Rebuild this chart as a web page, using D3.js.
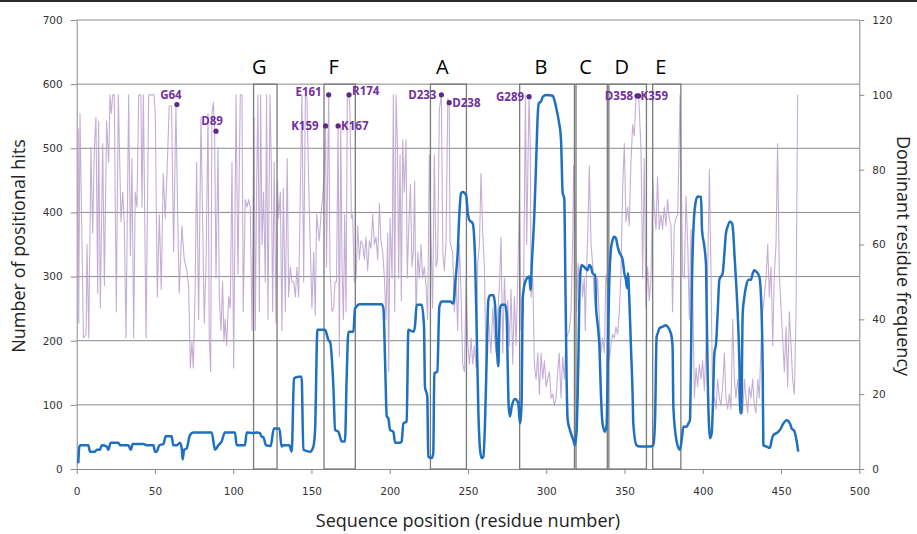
<!DOCTYPE html>
<html>
<head>
<meta charset="utf-8">
<script src="https://cdn.jsdelivr.net/npm/d3@7"></script>
<style>
  body { margin: 0; background: #fff; }
  svg { display: block; font-family: 'Open Sans', sans-serif; }
</style>
</head>
<body>
<div id="chart"></div>
<script>
// axis ticks
const xTicks = [0, 50, 100, 150, 200, 250, 300, 350, 400, 450, 500];
const hitsTicks = [0, 100, 200, 300, 400, 500, 600, 700];
const freqTicks = [0, 20, 40, 60, 80, 100, 120];

// motif boxes (residue ranges), top of box on the hits axis
const motifNames = ['G', 'F', 'A', 'B', 'C', 'D', 'E'];
const motifStart = [113, 158, 226, 283, 319, 340, 368];
const motifEnd = [128, 178, 249, 318, 339, 364, 386];
const motifTop = 600;

// labelled residues and their dominant residue frequency
const siteNames = ['G64', 'D89', 'E161', 'K159', 'K167', 'R174', 'D233', 'D238', 'G289', 'D358', 'K359'];
const siteFreq = [97.4, 90.3, 100, 91.7, 91.7, 100, 100, 97.9, 99.5, 99.7, 99.7];

// number of positional hits [residue, hits]
const hitsSeries = [
  [1, 9], [1.7, 35], [2.5, 37], [7.4, 37], [8.5, 27], [11.7, 27], [12.8, 30], [14.9, 30], [16, 37], [19.2, 35],
  [20.2, 30], [21.7, 41], [26.6, 41], [27.7, 37], [33, 37], [34.5, 30], [35.8, 39], [42.6, 39], [44.7, 37], [49, 37],
  [50, 27], [51.1, 27], [52.8, 37], [55.4, 39], [56.9, 51], [60.7, 51], [61.7, 37], [63.9, 37], [66, 41], [67.1, 32],
  [67.7, 15], [68.6, 30], [70.2, 32], [72.4, 53], [74.5, 57], [86.2, 57], [88.4, 30], [90.5, 37], [92.6, 43], [94.7, 57],
  [101.1, 57], [102.2, 37], [107.5, 37], [108.6, 57], [112.9, 56], [115, 57], [117.1, 56], [118.2, 50], [119.2, 50], [120.9, 37],
  [123.9, 36], [126, 63], [129.5, 63], [130.9, 35], [132, 37], [135.8, 37], [137.4, 27], [138.8, 141], [141.6, 144], [143.7, 144],
  [144.8, 30], [149.1, 27], [151.2, 35], [152.3, 61], [153.8, 217], [158.7, 217], [160.8, 201], [161.9, 198], [164, 128], [165.1, 61],
  [167.2, 58], [169.3, 43], [171.4, 43], [172.5, 144], [173.6, 214], [176.8, 214], [177.8, 250], [181, 257], [194.9, 257], [196, 250],
  [197, 170], [198.1, 82], [199.1, 79], [200.2, 61], [202.3, 58], [203.4, 41], [206.6, 41], [207.6, 43], [208.7, 71], [210.8, 74],
  [211.9, 217], [215.1, 214], [216.1, 222], [217.2, 256], [220.4, 256], [221.9, 222], [222.5, 128], [224, 113], [224.6, 19], [226.8, 17],
  [227.8, 24], [228.5, 149], [230.4, 152], [231.7, 253], [233.2, 261], [238.5, 261], [240.6, 258], [242, 295], [243.4, 336], [244.5, 399],
  [245.6, 430], [246.6, 432], [248.8, 427], [249.8, 401], [250.9, 388], [253, 383], [254.5, 330], [255.5, 222], [256.6, 92], [257.7, 30],
  [258.7, 17], [259.8, 19], [260.8, 66], [261.9, 170], [263, 263], [264, 271], [266.2, 271], [267.2, 258], [268.3, 196], [269.4, 160],
  [270, 222], [270.4, 250], [271.5, 256], [273.6, 256], [274.7, 243], [275.3, 170], [276, 97], [276.8, 82], [277.9, 97], [280, 109],
  [282.1, 103], [283.2, 71], [284.3, 108], [284.9, 263], [285.8, 284], [287.1, 295], [289.2, 300], [289.9, 279], [290.9, 326], [292.4, 398],
  [293.5, 476], [294.6, 554], [295.2, 570], [296.7, 573], [297.7, 580], [299.9, 583], [304.1, 582], [305.2, 575], [306.2, 565], [307.9, 544],
  [309.4, 515], [310.5, 430], [311.5, 422], [312.2, 295], [313, 139], [313.7, 76], [315.1, 61], [317.3, 45], [318.3, 37], [319.4, 61],
  [320.5, 170], [321.5, 300], [322.6, 318], [324.3, 315], [326.4, 310], [327.5, 318], [328.6, 315], [329.6, 305], [331.3, 302], [331.8, 253],
  [333, 222], [334, 190], [334.9, 118], [336, 70], [337.5, 58], [338.6, 70], [339.6, 222], [340.3, 295], [341.3, 342], [342.4, 357],
  [343.5, 362], [344.5, 360], [345.6, 347], [346.7, 338], [348.8, 326], [349.9, 305], [350.9, 295], [351.6, 282], [352.2, 305], [353, 268],
  [354.1, 191], [355.2, 113], [355.6, 71], [357.7, 37], [359.9, 35], [366.3, 35], [368.4, 37], [369.5, 76], [370.5, 206], [371.6, 214],
  [372.2, 219], [374.3, 222], [376.5, 224], [377.5, 222], [379.7, 211], [380.7, 191], [381.2, 97], [383.3, 43], [385.4, 30], [386.5, 45],
  [387.6, 66], [389.7, 66], [390.8, 71], [391.8, 76], [393.1, 295], [394, 373], [395.3, 414], [396.7, 425], [398.9, 424], [399.5, 373],
  [401, 347], [402.1, 316], [402.5, 243], [403.1, 150], [404.6, 48], [405.7, 56], [406.3, 87], [407.4, 180], [408.5, 196], [409.5, 243],
  [410.6, 295], [411.6, 300], [412.7, 305], [413.8, 336], [414.8, 367], [415.9, 378], [417.4, 386], [418.7, 383], [419.5, 367], [420.2, 336],
  [421.2, 295], [422.3, 243], [423.4, 165], [424, 87], [424.6, 87], [425.5, 243], [426.6, 269], [427.6, 284], [429.3, 295], [430.8, 295],
  [431.9, 305], [432.9, 310], [434, 308], [435.1, 305], [436.1, 300], [437.2, 269], [438.3, 150], [438.7, 37], [440.8, 35], [442.9, 33],
  [444, 45], [445.1, 53], [447.2, 56], [449.3, 61], [451.5, 71], [453.6, 76], [455.7, 71], [456.8, 63], [458.3, 60], [459.5, 50],
  [461, 27]
];

// dominant residue frequency [residue, %]
const freqSeries = [
  [1, 91], [1.3, 39], [2.1, 95], [4.3, 35], [6, 36], [6.6, 60], [7.7, 35], [9.1, 86], [10.2, 63], [11.3, 86],
  [12.3, 94], [13.4, 47], [14, 93], [15.1, 43], [16.6, 87], [17.7, 49], [19.1, 93], [20.4, 82], [21.3, 100], [22.1, 95],
  [23, 100], [24, 100], [25.3, 42], [26.6, 100], [28.3, 66], [29.4, 74], [30.4, 66], [31.5, 35], [33.2, 100], [34.3, 57],
  [35.3, 83], [36.4, 35], [37.4, 74], [38.5, 70], [39.6, 100], [41, 100], [41.7, 70], [42.6, 100], [44.3, 35], [46, 100],
  [49.4, 100], [50.2, 95], [51.5, 46], [52.8, 68], [54, 48], [55.3, 79], [56.6, 67], [57.7, 79], [59.1, 97], [60.6, 97],
  [61.9, 58], [63.4, 97], [64.5, 68], [65.5, 47], [67.2, 65], [68.7, 56], [70.4, 53], [71.5, 49], [72.6, 27], [73.6, 34],
  [74.5, 27], [75.7, 49], [76.6, 82], [77.9, 40], [79.4, 94], [81.5, 39], [82.6, 54], [83.9, 95], [84.7, 35], [85.6, 26],
  [86.4, 95], [87.3, 98], [88.1, 90], [89, 51], [90.3, 86], [91.1, 46], [92.2, 37], [93.2, 50], [94.1, 34], [94.9, 40],
  [95.8, 33], [97.1, 46], [98.1, 43], [99.2, 82], [100.3, 27], [101.8, 100], [103, 52], [104.5, 100], [105.6, 100], [106.4, 42],
  [107.7, 72], [108.8, 70], [109.8, 72], [110.9, 70], [112, 37], [113.3, 94], [114.1, 37], [115, 77], [115.8, 100], [116.7, 42],
  [117.5, 100], [118.4, 60], [119.4, 74], [120.5, 50], [121.3, 100], [122.2, 40], [123.5, 100], [124.3, 82], [125.2, 42], [126.2, 82],
  [127.3, 39], [128.2, 77], [129, 67], [130.1, 74], [131.1, 37], [132, 75], [133.3, 42], [134.5, 83], [135.4, 46], [136.5, 54],
  [137.5, 50], [138.6, 50], [139.7, 46], [140.7, 54], [141.8, 46], [142.9, 75], [143.9, 100], [145, 50], [146.1, 100], [147.1, 99],
  [148.2, 77], [149.2, 60], [150.3, 43], [151.4, 58], [152.4, 41], [153.3, 68], [155, 61], [156.1, 68], [157.2, 73], [158.2, 80],
  [159, 92], [159.6, 54], [161, 100], [161.8, 54], [163.1, 42], [164.2, 43], [165, 50], [166, 50], [167, 92], [167.8, 30],
  [168.7, 92], [169.5, 54], [170.4, 40], [171.2, 68], [172.1, 42], [172.9, 100], [174, 100], [174.6, 95], [175.5, 67], [176.3, 68],
  [177.4, 50], [178.5, 51], [179.5, 65], [180.6, 56], [181.6, 61], [182.7, 60], [183.8, 56], [184.8, 62], [185.9, 53], [187, 61],
  [188, 59], [189.1, 68], [190.2, 60], [191.2, 62], [192.3, 56], [193.4, 71], [194.4, 61], [195.5, 58], [196.6, 51], [197.6, 40],
  [198.7, 63], [199.3, 26], [200.2, 67], [201.5, 51], [202.3, 100], [203.2, 42], [204, 100], [204.9, 87], [205.7, 51], [206.6, 84],
  [207.4, 45], [208.3, 88], [209.3, 74], [210.4, 88], [211.2, 51], [212.1, 64], [213.2, 76], [214.2, 54], [215.1, 58], [215.9, 77],
  [216.8, 40], [217.9, 58], [218.9, 51], [220, 60], [221, 51], [222.1, 54], [223.2, 49], [224.2, 40], [225.3, 84], [226.4, 61],
  [227.4, 43], [228.5, 84], [229.6, 54], [230.6, 56], [231.7, 96], [233, 100], [233.9, 58], [234.9, 53], [236, 61], [237.1, 99],
  [238, 98], [238.5, 61], [239.4, 59], [240.2, 58], [241.3, 42], [242.4, 51], [243.4, 37], [244.5, 60], [245.6, 46], [246.6, 28],
  [247.7, 26], [248.8, 51], [249.8, 34], [250.9, 28], [252, 35], [253, 28], [254.1, 33], [255.2, 27], [256.2, 55], [257.3, 60],
  [258.3, 79], [259.4, 63], [260.5, 54], [261.5, 27], [262.6, 42], [263.7, 37], [264.7, 31], [265.8, 43], [266.9, 35], [267.9, 31],
  [269, 42], [270.1, 49], [271.1, 62], [272.2, 31], [273.3, 51], [274.3, 40], [275.4, 45], [276.4, 33], [277.5, 48], [278.6, 28],
  [279.6, 46], [280.7, 33], [281.8, 51], [282.8, 72], [283.9, 37], [285.4, 42], [286.7, 100], [287.5, 60], [289, 100], [289.8, 86],
  [290.3, 46], [291.4, 51], [292.4, 28], [293.5, 24], [294.6, 31], [295.6, 20], [296.7, 31], [297.7, 24], [298.8, 29], [299.9, 22],
  [300.9, 24], [302, 26], [303.1, 19], [304.1, 20], [305.2, 17], [306.3, 19], [307.3, 26], [308.3, 31], [309.4, 19], [310.5, 30],
  [311.5, 24], [312.6, 35], [313.7, 36], [314.7, 37], [315.8, 42], [316.8, 60], [317.5, 81], [318.6, 68], [319.4, 42], [320.3, 55],
  [321.1, 51], [322.2, 54], [323.2, 46], [324.3, 51], [324.9, 37], [325.8, 54], [326.6, 64], [327.5, 81], [328.6, 60], [329.6, 55],
  [330.7, 46], [331.8, 42], [332.8, 51], [333.9, 40], [334.9, 31], [336, 35], [337.1, 31], [338.1, 52], [339.2, 49], [340.3, 29],
  [341.3, 33], [342.4, 36], [343.5, 35], [344.5, 38], [345.6, 36], [346.7, 42], [347.7, 52], [348.8, 75], [349.9, 87], [350.9, 66],
  [352, 70], [353, 65], [354.1, 82], [355.2, 92], [356.2, 89], [357.3, 99], [358, 100], [359, 100], [360.5, 86], [361.6, 51],
  [362.6, 83], [363.7, 43], [364.8, 54], [365.8, 45], [366.9, 51], [368, 77], [369, 70], [370.1, 64], [371.1, 78], [372.2, 64],
  [373.3, 68], [374.3, 64], [375.4, 70], [376.5, 65], [377.5, 72], [378.6, 67], [379.7, 65], [380.7, 42], [381.8, 65], [382.9, 67],
  [384, 68], [385.5, 100], [386.3, 77], [387.2, 52], [388.2, 51], [389.3, 73], [390.4, 60], [391.4, 40], [392.5, 64], [393.5, 51],
  [394.6, 19], [395.7, 27], [396.7, 22], [397.8, 28], [398.9, 24], [399.9, 29], [401, 21], [402.1, 33], [403.1, 51], [404.2, 80],
  [405.3, 51], [406.3, 17], [407.4, 19], [408.5, 16], [409.5, 24], [410.6, 19], [411.6, 17], [412.7, 22], [413.8, 31], [414.8, 19],
  [415.9, 16], [417, 20], [418, 16], [419.1, 40], [420.2, 24], [421.2, 19], [422.3, 24], [423.4, 17], [424.4, 22], [425.5, 15],
  [426.6, 24], [427.6, 19], [428.7, 15], [429.7, 22], [430.8, 19], [431.9, 24], [432.9, 17], [434, 15], [435.1, 24], [436.1, 19],
  [437.2, 33], [438.3, 42], [439.3, 46], [440.4, 51], [441.5, 60], [442.5, 46], [443.6, 54], [444.7, 33], [445.7, 52], [446.8, 60],
  [447.8, 87], [448.9, 52], [450, 43], [451, 35], [452.1, 26], [453.2, 38], [454.2, 22], [455.3, 42], [456.4, 33], [457.4, 24],
  [458.5, 20], [459.6, 42], [460.6, 100]
];

const width = 917;
const height = 534;
const plot = { left: 76.7, right: 859.3, top: 20, bottom: 469 };
const gridColor = '#8a8a8a';

const x = d3.scaleLinear().domain([0, 500]).range([plot.left, plot.right]);
const yHits = d3.scaleLinear().domain([0, 700]).range([plot.bottom, plot.top]);
const yFreq = d3.scaleLinear().domain([0, 120]).range([plot.bottom, plot.top]);

const svg = d3.select('#chart')
  .append('svg')
  .attr('width', width)
  .attr('height', height);

// dark edge along the top of the picture
svg.append('line')
  .attr('x1', 0).attr('x2', width)
  .attr('y1', 1).attr('y2', 1)
  .attr('stroke', '#2b2b2b')
  .attr('stroke-width', 2);

// horizontal grid lines
svg.append('g')
  .selectAll('line')
  .data(hitsTicks.filter((d) => d > 0))
  .join('line')
  .attr('x1', plot.left).attr('x2', plot.right)
  .attr('y1', (d) => yHits(d)).attr('y2', (d) => yHits(d))
  .attr('stroke', gridColor)
  .attr('stroke-width', 1);

const styleAxis = (g) => {
  g.select('.domain').attr('stroke', gridColor).attr('stroke-width', 1);
  g.selectAll('.tick line').attr('stroke', gridColor);
  g.selectAll('.tick text')
    .attr('fill', '#333')
    .attr('font-family', "'DejaVu Sans', Verdana, sans-serif")
    .attr('font-size', 10.5);
};

svg.append('g')
  .attr('transform', `translate(${plot.left},0)`)
  .call(d3.axisLeft(yHits).tickValues(hitsTicks).tickSize(6).tickSizeOuter(0).tickPadding(8))
  .call(styleAxis);

svg.append('g')
  .attr('transform', `translate(${plot.right},0)`)
  .call(d3.axisRight(yFreq).tickValues(freqTicks).tickSize(5).tickSizeOuter(0).tickPadding(8))
  .call(styleAxis);

svg.append('g')
  .attr('transform', `translate(0,${plot.bottom})`)
  .call(d3.axisBottom(x).tickValues(xTicks).tickSize(5).tickSizeOuter(0).tickPadding(14))
  .call(styleAxis);

// frequency trace (right axis)
const freqLine = d3.line()
  .x((d) => x(d[0]))
  .y((d) => yFreq(Math.min(d[1], 100)));

svg.append('path')
  .datum(freqSeries)
  .attr('fill', 'none')
  .attr('stroke', '#bba0cf')
  .attr('stroke-opacity', 0.85)
  .attr('stroke-width', 1.1)
  .attr('stroke-linejoin', 'round')
  .attr('d', freqLine);

// motif boxes
const motifs = motifNames.map((name, i) => ({ name, start: motifStart[i], end: motifEnd[i] }));

svg.append('g')
  .selectAll('rect')
  .data(motifs)
  .join('rect')
  .attr('x', (d) => x(d.start))
  .attr('y', yHits(motifTop))
  .attr('width', (d) => x(d.end) - x(d.start))
  .attr('height', yHits(0) - yHits(motifTop))
  .attr('fill', 'none')
  .attr('stroke', '#7a7a7a')
  .attr('stroke-width', 1.3);

svg.append('g')
  .attr('font-size', 20)
  .attr('fill', '#000')
  .attr('text-anchor', 'middle')
  .selectAll('text')
  .data(motifs)
  .join('text')
  .attr('x', (d) => (x(d.start) + x(d.end)) / 2 - 6)
  .attr('y', yHits(motifTop) - 10)
  .text((d) => d.name);

// hits trace (left axis)
const hitsLine = d3.line()
  .curve(d3.curveMonotoneX)
  .x((d) => x(d[0]))
  .y((d) => yHits(d[1]));

svg.append('path')
  .datum(hitsSeries)
  .attr('fill', 'none')
  .attr('stroke', '#1f70c1')
  .attr('stroke-width', 2.5)
  .attr('stroke-linejoin', 'round')
  .attr('d', hitsLine);

// labelled residues
const sitePlacement = {
  G64: { anchor: 'middle', dx: -6, dy: -6 },
  D89: { anchor: 'middle', dx: -4, dy: -6 },
  E161: { anchor: 'end', dx: -7, dy: 1 },
  K159: { anchor: 'end', dx: -7, dy: 4 },
  K167: { anchor: 'start', dx: 3, dy: 4 },
  R174: { anchor: 'start', dx: 3, dy: 0 },
  D233: { anchor: 'end', dx: -5, dy: 4 },
  D238: { anchor: 'start', dx: 3, dy: 4 },
  G289: { anchor: 'end', dx: -5, dy: 4 },
  D358: { anchor: 'end', dx: -4, dy: 4 },
  K359: { anchor: 'start', dx: 2, dy: 4 },
};

const sites = siteNames.map((name, i) => ({ name, res: +name.slice(1), freq: siteFreq[i] }));

const siteG = svg.append('g')
  .selectAll('g')
  .data(sites)
  .join('g')
  .attr('transform', (d) => `translate(${x(d.res)},${yFreq(d.freq)})`);

siteG.append('circle')
  .attr('r', 2.6)
  .attr('fill', '#5b2a86');

siteG.append('text')
  .attr('x', (d) => sitePlacement[d.name].dx)
  .attr('y', (d) => sitePlacement[d.name].dy)
  .attr('text-anchor', (d) => sitePlacement[d.name].anchor)
  .attr('font-size', 11.5)
  .attr('font-weight', 700)
  .attr('fill', '#7030a0')
  .text((d) => d.name);

// axis titles
svg.append('text')
  .attr('x', (plot.left + plot.right) / 2)
  .attr('y', 527)
  .attr('text-anchor', 'middle')
  .attr('font-size', 18)
  .attr('fill', '#222')
  .text('Sequence position (residue number)');

svg.append('text')
  .attr('transform', 'translate(25,246) rotate(-90)')
  .attr('text-anchor', 'middle')
  .attr('font-size', 18)
  .attr('fill', '#222')
  .text('Number of positional hits');

svg.append('text')
  .attr('transform', 'translate(897,256) rotate(90)')
  .attr('text-anchor', 'middle')
  .attr('font-size', 18)
  .attr('fill', '#222')
  .text('Dominant residue frequency');
</script>
</body>
</html>
